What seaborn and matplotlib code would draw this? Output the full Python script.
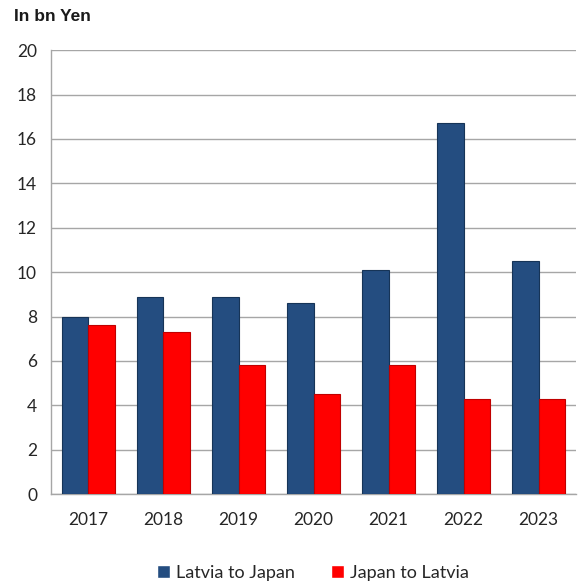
import pandas as pd
import matplotlib
matplotlib.use("Agg")
import matplotlib.pyplot as plt
import seaborn as sns

# ============================================
# DATA
# ============================================
years = ["2017", "2018", "2019", "2020", "2021", "2022", "2023"]
latvia_to_japan = [8.0, 8.9, 8.9, 8.6, 10.1, 16.7, 10.5]
japan_to_latvia = [7.6, 7.3, 5.8, 4.5, 5.8, 4.3, 4.3]
series_names = ["Latvia to Japan", "Japan to Latvia"]
y_ticks = [0, 2, 4, 6, 8, 10, 12, 14, 16, 18, 20]

df = pd.DataFrame({
    "year": years * 2,
    "value": latvia_to_japan + japan_to_latvia,
    "series": [series_names[0]] * len(years) + [series_names[1]] * len(years),
})

# ============================================
# PLOT
# ============================================
sns.set_style("white")
plt.rcParams["font.family"] = ["Lato", "DejaVu Sans"]

fig = plt.figure(figsize=(5.79, 5.84), dpi=100)
ax = fig.add_axes([0.088, 0.154, 0.907, 0.760])

palette = {series_names[0]: "#244d80", series_names[1]: "#ff0000"}
sns.barplot(data=df, x="year", y="value", hue="series", palette=palette,
            width=0.7, saturation=1, ax=ax, zorder=3)

# darker outline to hint the bevelled look
for bar, edge in zip(ax.patches, ["#163457"] * 7 + ["#c00000"] * 7):
    bar.set_edgecolor(edge)
    bar.set_linewidth(0.8)

ax.set_ylim(0, 20)
ax.set_yticks(y_ticks)
ax.set_xlim(-0.5, len(years) - 0.5)
ax.yaxis.grid(True, color="#a6a6a6", linewidth=1, zorder=0)
ax.set_axisbelow(True)

for side in ["top", "right"]:
    ax.spines[side].set_visible(False)
for side in ["left", "bottom"]:
    ax.spines[side].set_color("#a6a6a6")
    ax.spines[side].set_linewidth(1)

# tick marks between categories on x
ax.set_xticks([i + 0.5 for i in range(-1, len(years))], minor=True)
ax.tick_params(axis="x", which="major", length=0, labelsize=12.5, pad=13, colors="#262626")
ax.tick_params(axis="x", which="minor", length=5, color="#a6a6a6", direction="out")
ax.tick_params(axis="y", length=5, color="#a6a6a6", direction="out", labelsize=12.5,
               pad=5, labelcolor="#262626")

ax.set_xlabel("")
ax.set_ylabel("")

fig.text(0.024, 0.972, "In bn Yen", fontsize=12.5, fontweight="bold", va="center", ha="left",
         color="#1a1a1a", family=["Liberation Sans", "DejaVu Sans"])

handles, labels = ax.get_legend_handles_labels()
ax.get_legend().remove()
fig.legend(handles, labels, loc="center", bbox_to_anchor=(0.54, 0.019), ncol=2,
           frameon=False, fontsize=13, handlelength=0.75, handleheight=0.75,
           handletextpad=0.3, columnspacing=2.0, labelcolor="#262626")

fig.savefig("out.png", dpi=100)
